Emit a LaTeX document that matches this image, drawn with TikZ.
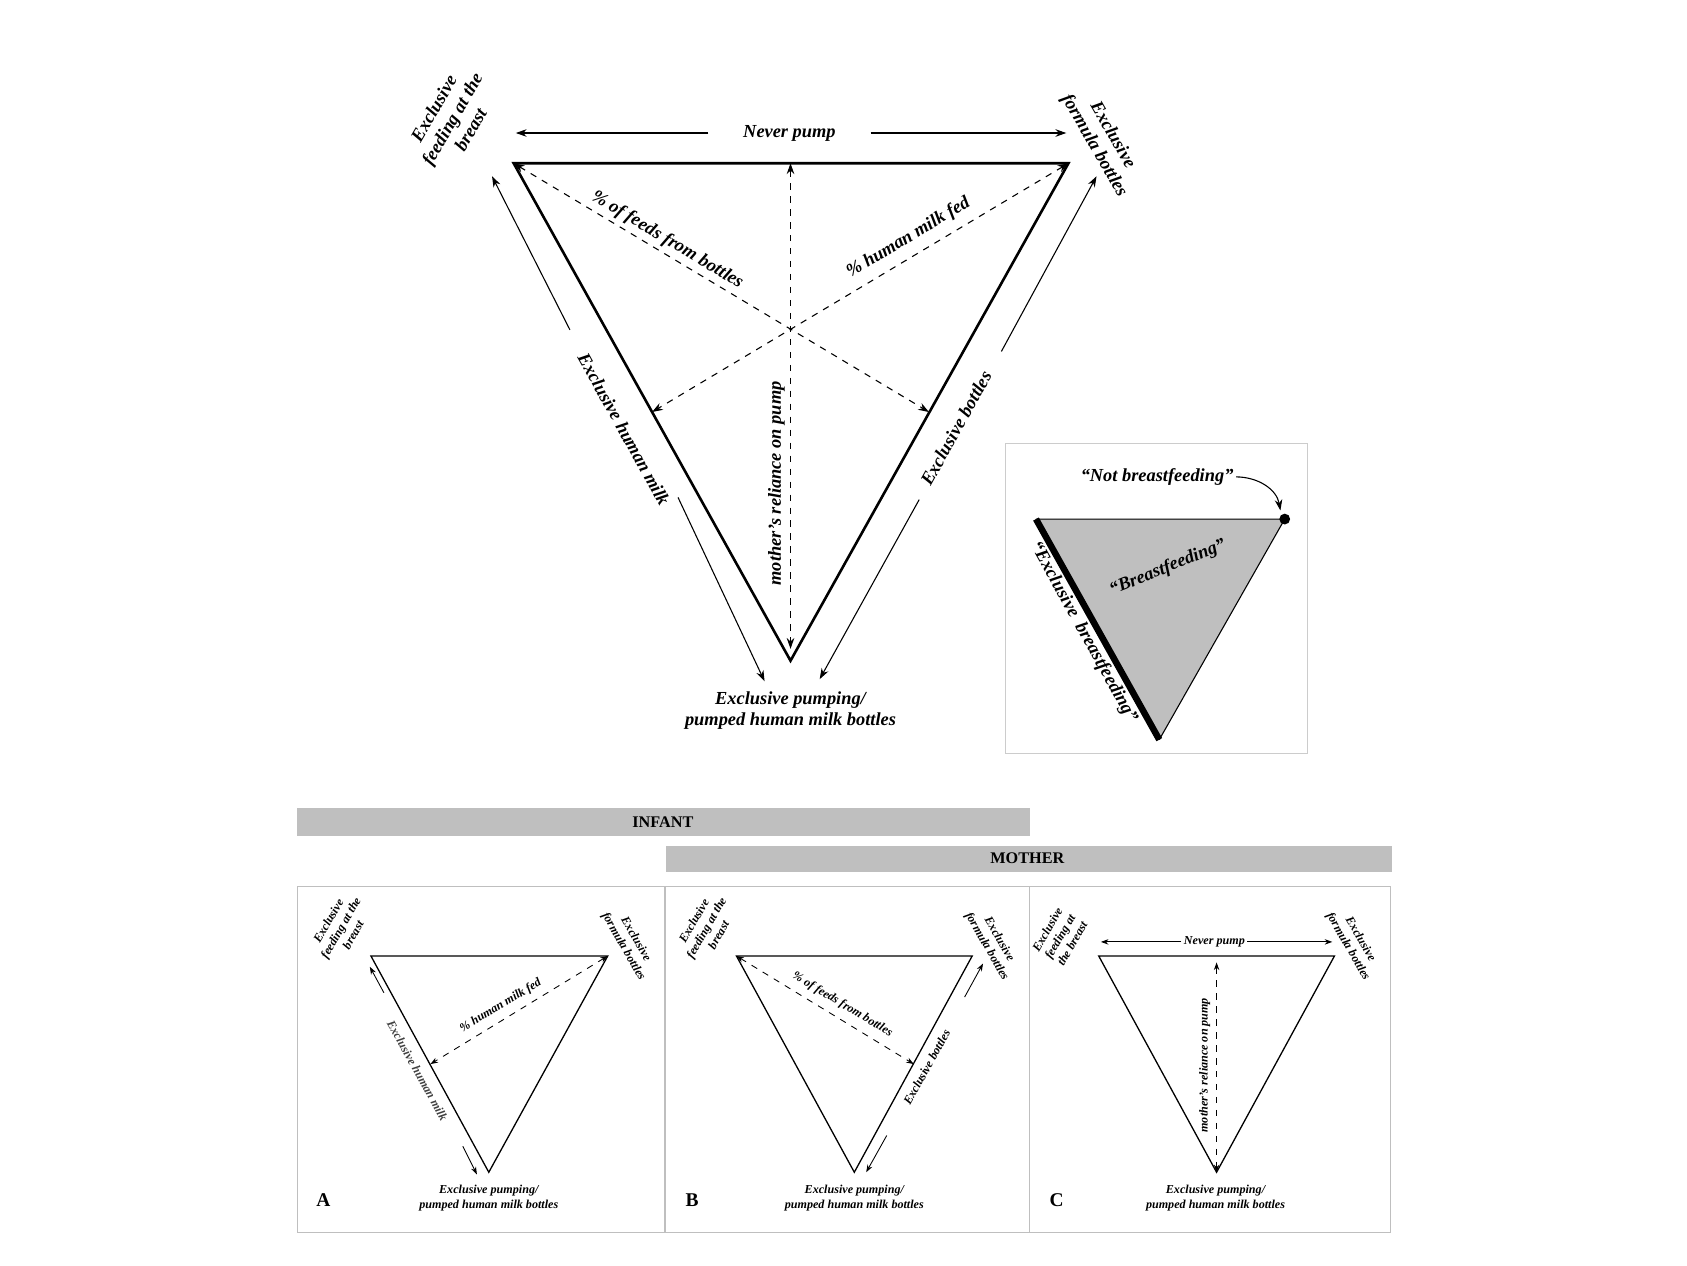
\documentclass[tikz,border=0pt]{standalone}
\usepackage{fontspec}
\setmainfont{Liberation Serif}
\usetikzlibrary{arrows.meta}
\begin{document}
\begin{tikzpicture}[x=0.5pt,y=-0.5pt,
  lab/.style={font=\fontsize{8.5}{9.8}\selectfont\bfseries\itshape,align=center,inner sep=1pt},
  slab/.style={font=\fontsize{5.6}{6.6}\selectfont\bfseries\itshape,align=center,inner sep=1pt},
  arr/.style={-{Stealth[length=5pt,width=3.5pt]},line width=0.5pt},
  darr/.style={{Stealth[length=5pt,width=3.5pt]}-{Stealth[length=5pt,width=3.5pt]},dashed,line width=0.5pt},
  sarr/.style={-{Stealth[length=3.5pt,width=2.5pt]},line width=0.4pt},
  sdarr/.style={{Stealth[length=3.5pt,width=2.5pt]}-{Stealth[length=3.5pt,width=2.5pt]},dashed,line width=0.4pt},
  tri/.style={line width=1.2pt},
  stri/.style={line width=0.6pt}]
\useasboundingbox (0,0) rectangle (1560,1170);
% main triangle
\coordinate (TL) at (475,151); \coordinate (TR) at (988,151); \coordinate (B) at (731,611);
\draw[tri] (TL) -- (TR) -- (B) -- cycle;
\coordinate (RM) at (859,381); \coordinate (LM) at (603,381); \coordinate (TM) at (731,151);
\draw[darr] (TL) -- (RM);
\draw[darr] (TR) -- (LM);
\draw[darr] (TM) -- (731,600);
\node[lab] (np) at (730,123) {Never pump};
\draw[arr] (655,123) -- (477,123);
\draw[arr] (805,123) -- (986,123);
\node[lab,rotate=-61] (ehm) at (577,397) {Exclusive human milk};
\draw[arr] (527,305) -- (455,163);
\draw[arr] (627,460) -- (707,630);
\node[lab,rotate=61] (eb) at (884,396) {Exclusive bottles};
\draw[arr] (926,325) -- (1014,163);
\draw[arr] (850,462) -- (758,628);
\node[lab,rotate=60] (c1) at (418,110) {Exclusive\\feeding at the\\breast};
\node[lab,rotate=-60] (c2) at (1020,130) {Exclusive\\formula bottles};
\node[lab] (c3) at (731,657) {Exclusive pumping/\\pumped human milk bottles};
\node[lab,rotate=-31] (pf) at (617,222) {\% of feeds from bottles};
\node[lab,rotate=31] (ph) at (840,220) {\% human milk fed};
\node[lab,rotate=90] (mr) at (718,447) {mother’s reliance on pump};
% inset
\draw[black!20,line width=0.6pt] (930,410) rectangle (1209,697);
\coordinate (IL) at (958,480); \coordinate (IR) at (1188,480); \coordinate (IB) at (1072,684);
\fill[black!25] (IL) -- (IR) -- (IB) -- cycle;
\draw[line width=0.5pt] (IL) -- (IR) -- (IB);
\draw[line width=3pt] (IL) -- (IB);
\fill (IR) circle (5);
\node[lab] (nb) at (1070,441) {“Not breastfeeding”};
\draw[arr] (nb.east) to[out=0,in=100] (1184,472);
\node[lab,rotate=22] (bf) at (1080,525) {“Breastfeeding”};
\node[lab,rotate=-61] (ebf) at (1002,585) {“Exclusive\ \ breastfeeding”};
% bars
\fill[black!25] (275,747) rectangle (952,773);
\node[font=\fontsize{7.5}{8}\selectfont\bfseries] (inf) at (613,760) {INFANT};
\fill[black!25] (616,782) rectangle (1287,806);
\node[font=\fontsize{7.5}{8}\selectfont\bfseries] (mot) at (950,794) {MOTHER};
\draw[black!25,line width=0.6pt] (275,820) rectangle (1286,1140);
\draw[black!25,line width=0.6pt] (615,820) -- (615,1140) (952,820) -- (952,1140);
% panel A
\coordinate (AL) at (343,884); \coordinate (AR) at (562,884); \coordinate (AB) at (452,1084);
\draw[stri] (AL) -- (AR) -- (AB) -- cycle;
\node[slab,rotate=60] (a1) at (315,858) {Exclusive\\feeding at the\\breast};
\node[slab,rotate=-60] (a2) at (582,872) {Exclusive\\formula bottles};
\node[slab] (a3) at (452,1108) {Exclusive pumping/\\pumped human milk bottles};
\node[font=\fontsize{9}{10}\selectfont\bfseries] (la) at (299,1110) {A};
\draw[sdarr] (AR) -- (398,984);
\node[slab,rotate=31] (ah) at (463,930) {\% human milk fed};
\node[slab,rotate=-61,text=black!75] (aeh) at (386,990) {Exclusive human milk};
\draw[sarr] (355,918) -- (342,894);
\draw[sarr] (428,1060) -- (441,1086);
% panel B
\coordinate (BL) at (681,884); \coordinate (BR) at (899,884); \coordinate (BB) at (790,1084);
\draw[stri] (BL) -- (BR) -- (BB) -- cycle;
\node[slab,rotate=60] (b1) at (653,858) {Exclusive\\feeding at the\\breast};
\node[slab,rotate=-60] (b2) at (918,872) {Exclusive\\formula bottles};
\node[slab] (b3) at (790,1108) {Exclusive pumping/\\pumped human milk bottles};
\node[font=\fontsize{9}{10}\selectfont\bfseries] (lb) at (640,1110) {B};
\draw[sdarr] (BL) -- (845,984);
\node[slab,rotate=-31] (bf2) at (779,929) {\% of feeds from bottles};
\node[slab,rotate=61] (beb) at (857,987) {Exclusive bottles};
\draw[sarr] (892,922) -- (909,891);
\draw[sarr] (820,1050) -- (801,1084);
% panel C
\coordinate (CL) at (1016,884); \coordinate (CR) at (1234,884); \coordinate (CB) at (1125,1084);
\draw[stri] (CL) -- (CR) -- (CB) -- cycle;
\node[slab,rotate=60] (c1s) at (980,866) {Exclusive\\feeding at\\the breast};
\node[slab,rotate=-60] (c2s) at (1252,872) {Exclusive\\formula bottles};
\node[slab] (c3s) at (1124,1108) {Exclusive pumping/\\pumped human milk bottles};
\node[font=\fontsize{9}{10}\selectfont\bfseries] (lc) at (977,1110) {C};
\node[slab] (cnp) at (1123,871) {Never pump};
\draw[sarr] (cnp.west) -- (1018,871);
\draw[sarr] (cnp.east) -- (1232,871);
\draw[sdarr] (1125,890) -- (CB);
\node[slab,rotate=90] (cmr) at (1114,985) {mother’s reliance on pump};
\end{tikzpicture}
\end{document}
